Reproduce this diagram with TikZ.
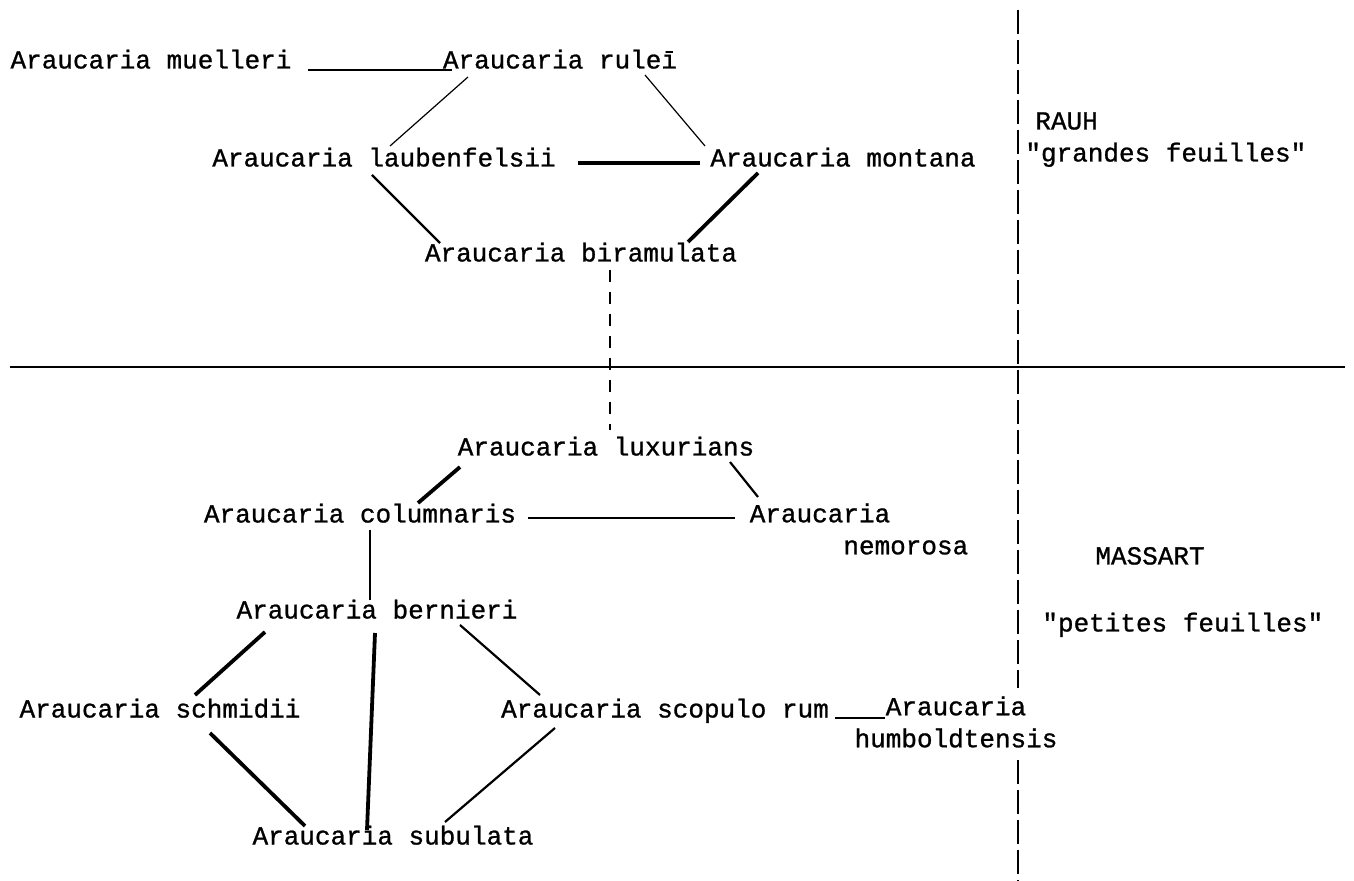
\documentclass[tikz,border=0pt]{standalone}
\usepackage{fontspec}
\setmainfont{Liberation Mono}[FakeBold=1]
\begin{document}
\begin{tikzpicture}[x=0.5pt,y=-0.5pt,
  taxon/.style={inner sep=0pt,text height=9pt,text depth=2.5pt,font=\fontsize{13}{16}\selectfont},
  twoline/.style={inner sep=0pt,font=\fontsize{13}{16}\selectfont},
  faint/.style={line width=0.6pt},
  firm/.style={line width=1.1pt},
  heavy/.style={line width=1.9pt},
  vague/.style={line width=0.7pt,dash pattern=on 6pt off 5pt},
  divider/.style={line width=0.9pt}]
\useasboundingbox (0,0) rectangle (1354,881);
\draw[divider] (10,367) -- (1345,367);
\draw[divider,dash pattern=on 12pt off 3pt] (1018,10) -- (1018,881);
\node[taxon] (muelleri) at (151,62) {Araucaria muelleri};
\node[taxon] (rulei) at (560,62) {Araucaria ruleī};
\node[taxon] (laub) at (384,160) {Araucaria laubenfelsii};
\node[taxon] (montana) at (843,160) {Araucaria montana};
\node[taxon] (biram) at (581,255) {Araucaria biramulata};
\node[taxon,anchor=west] (rauh) at (1035,123) {RAUH};
\node[taxon,anchor=west] (grandes) at (1025,155) {\textquotedbl grandes feuilles\textquotedbl};
\node[taxon] (luxur) at (606,449) {Araucaria luxurians};
\node[taxon] (column) at (360,516) {Araucaria columnaris};
\node[twoline,align=left] (nemor) at (859,529) {Araucaria\\\hphantom{Arauca}nemorosa};
\node[taxon] (bernieri) at (377,612) {Araucaria bernieri};
\node[taxon,anchor=west] (massart) at (1095,558) {MASSART};
\node[taxon,anchor=west] (petites) at (1042,625) {\textquotedbl petites feuilles\textquotedbl};
\node[taxon] (schmidii) at (160,711) {Araucaria schmidii};
\node[taxon] (scopul) at (665,711) {Araucaria scopulo rum};
\node[twoline,align=center,fill=white,inner ysep=4pt] (humb) at (956,722) {Araucaria\\humboldtensis};
\node[taxon] (subulata) at (393,838) {Araucaria subulata};
\draw[firm] ([shift={(157,8)}]muelleri.center) -- ([shift={(-108,8)}]rulei.center);
\draw[faint] ([shift={(-92,15)}]rulei.center) -- ([shift={(6,-14)}]laub.center);
\draw[faint] ([shift={(85,13)}]rulei.center) -- ([shift={(-138,-14)}]montana.center);
\draw[heavy] ([shift={(194,3)}]laub.center) -- ([shift={(-143,3)}]montana.center);
\draw[firm] ([shift={(-12,15)}]laub.center) -- ([shift={(-141,-12)}]biram.center);
\draw[heavy] ([shift={(-85,13)}]montana.center) -- ([shift={(107,-13)}]biram.center);
\draw[vague] ([shift={(29,15)}]biram.center) -- ([shift={(4,-19)}]luxur.center);
\draw[heavy] ([shift={(-146,18)}]luxur.center) -- ([shift={(58,-13)}]column.center);
\draw[firm] ([shift={(124,13)}]luxur.center) -- ([shift={(-101,-32)}]nemor.center);
\draw[firm] ([shift={(168,2)}]column.center) -- ([shift={(-124,-11)}]nemor.center);
\draw[firm] ([shift={(10,14)}]column.center) -- ([shift={(-7,-12)}]bernieri.center);
\draw[heavy] ([shift={(-112,20)}]bernieri.center) -- ([shift={(35,-16)}]schmidii.center);
\draw[heavy] ([shift={(-2,21)}]bernieri.center) -- ([shift={(-26,-8)}]subulata.center);
\draw[firm] ([shift={(83,13)}]bernieri.center) -- ([shift={(-125,-16)}]scopul.center);
\draw[heavy] ([shift={(50,22)}]schmidii.center) -- ([shift={(-88,-12)}]subulata.center);
\draw[firm] ([shift={(-110,17)}]scopul.center) -- ([shift={(52,-16)}]subulata.center);
\draw[firm] ([shift={(170,7)}]scopul.center) -- ([shift={(-71,-4)}]humb.center);
\end{tikzpicture}
\end{document}
